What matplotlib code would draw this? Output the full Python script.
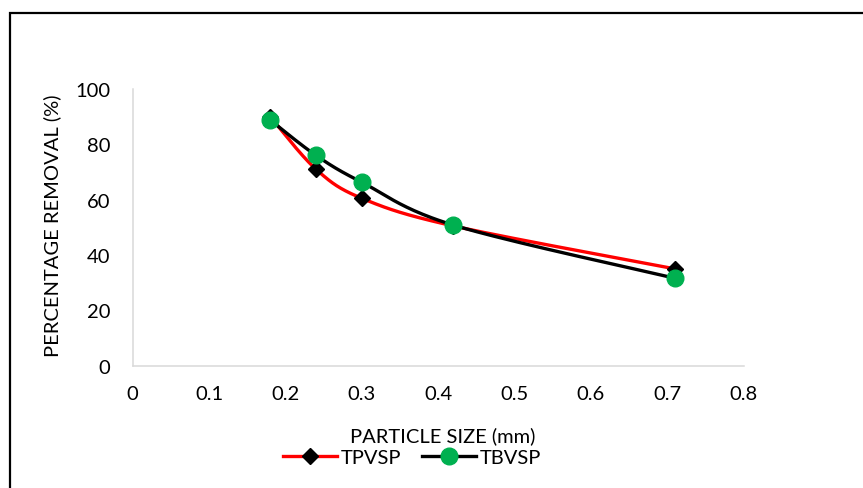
import numpy as np
import matplotlib
matplotlib.use("Agg")
import matplotlib.pyplot as plt
from matplotlib.patches import Rectangle

plt.rcParams['font.family'] = ['Lato', 'DejaVu Sans']

# Particle size (mm) and percentage removal for the two media
particle_size = [0.18, 0.24, 0.30, 0.42, 0.71]
tpvsp_removal = [90.0, 71.0, 60.5, 50.5, 35.0]
tbvsp_removal = [88.8, 76.0, 66.3, 50.8, 31.6]

x_ticks = [0, 0.1, 0.2, 0.3, 0.4, 0.5, 0.6, 0.7, 0.8]
x_tick_labels = ['0', '0.1', '0.2', '0.3', '0.4', '0.5', '0.6', '0.7', '0.8']
y_ticks = [0, 20, 40, 60, 80, 100]
y_tick_labels = ['0', '20', '40', '60', '80', '100']

series_names = ['TPVSP', 'TBVSP']

FS = 14.5


def smooth_curve(xs, ys, n=40):
    """Smoothed line through the points (Catmull-Rom style Bezier segments)."""
    pts = np.column_stack([xs, ys]).astype(float)
    out = [pts[0]]
    m = len(pts)
    t = np.linspace(0, 1, n)[1:, None]
    for i in range(m - 1):
        p0 = pts[i - 1] if i > 0 else pts[i]
        p1 = pts[i]
        p2 = pts[i + 1]
        p3 = pts[i + 2] if i + 2 < m else pts[i + 1]
        c1 = p1 + (p2 - p0) / 6.0
        c2 = p2 - (p3 - p1) / 6.0
        seg = ((1 - t) ** 3) * p1 + 3 * ((1 - t) ** 2) * t * c1 \
            + 3 * (1 - t) * t ** 2 * c2 + t ** 3 * p2
        out.extend(seg)
    out = np.array(out)
    return out[:, 0], out[:, 1]


W, H = 863, 489
fig = plt.figure(figsize=(W / 100, H / 100), dpi=100)
ax = fig.add_axes([132.7 / W, 1 - 366.7 / H, (743.7 - 132.7) / W, (366.7 - 90) / H])

red = '#FF0000'
green = '#00B050'

sx, sy = smooth_curve(particle_size, tpvsp_removal)
ax.plot(sx, sy, color=red, lw=2.4, solid_capstyle='round', zorder=3)
sx, sy = smooth_curve(particle_size, tbvsp_removal)
ax.plot(sx, sy, color='black', lw=2.4, solid_capstyle='round', zorder=3)

ax.plot(particle_size, tpvsp_removal, linestyle='none', marker='D',
        markersize=8, color='black', zorder=4)
ax.plot(particle_size, tbvsp_removal, linestyle='none', marker='o',
        markersize=12, color=green, zorder=5)

ax.set_xlim(0, 0.8)
ax.set_ylim(0, 100)
ax.set_xticks(x_ticks)
ax.set_xticklabels(x_tick_labels)
ax.set_yticks(y_ticks)
ax.set_yticklabels(y_tick_labels)
ax.tick_params(axis='y', length=0, labelsize=FS, pad=16, colors='black')
ax.tick_params(axis='x', length=0, labelsize=FS, pad=14, colors='black')

for side in ['top', 'right']:
    ax.spines[side].set_visible(False)
for side in ['left', 'bottom']:
    ax.spines[side].set_color('#D9D9D9')
    ax.spines[side].set_linewidth(1.1)

# Axis titles
fig.text(443 / W, 1 - 436 / H, 'PARTICLE SIZE (mm)', fontsize=FS,
         ha='center', va='center')
fig.text(52 / W, 1 - 226 / H, 'PERCENTAGE REMOVAL (%)', fontsize=FS,
         ha='center', va='center', rotation=90)

# Legend entries: line with marker
h1 = plt.Line2D([], [], color=red, lw=2.4, marker='D', markersize=8,
                markerfacecolor='black', markeredgecolor='black')
h2 = plt.Line2D([], [], color='black', lw=2.4, marker='o', markersize=12,
                markerfacecolor=green, markeredgecolor=green)
fig.legend([h1, h2], series_names, loc='center', ncol=2, frameon=False,
           bbox_to_anchor=(412 / W, 1 - 458 / H), fontsize=FS,
           handlelength=2.7, handletextpad=0.2, columnspacing=1.0,
           borderpad=0, borderaxespad=0)

# Frame around the chart area
left = 10 / W
top = 1 - 14 / H
fig.patches.append(Rectangle((left, -0.2), 1.2, top + 0.2,
                             transform=fig.transFigure, fill=False,
                             edgecolor='black', linewidth=1.6, clip_on=False))

fig.savefig('out.png', dpi=100, facecolor='white')
